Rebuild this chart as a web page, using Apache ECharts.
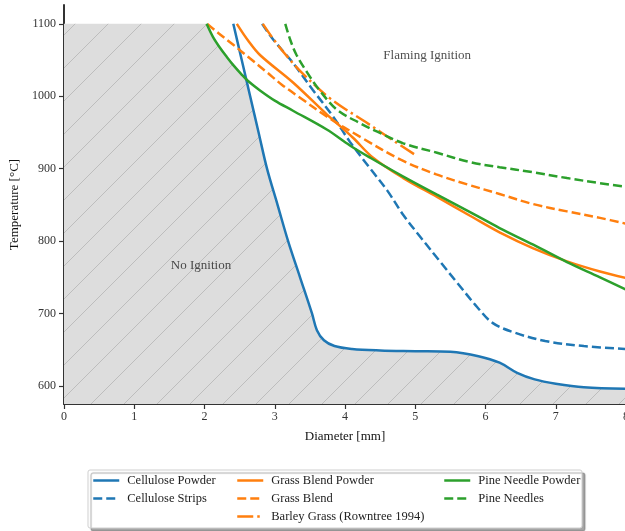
<!DOCTYPE HTML>
<html lang="en">
<head>
<meta charset="utf-8">
<title>Ignition temperature vs diameter</title>
<style>
html, body {
  margin: 0;
  background: #fff;
}
#chart {
  width: 625px;
  height: 531px;
}
</style>
</head>
<body>
<div id="chart"></div>
<script src="https://cdn.jsdelivr.net/npm/echarts@6.0.0/dist/echarts.min.js"></script>
<script>
// [diameter mm, temperature C]
var cellulosePowder = [[2.41,1100],[2.53,1050],[2.65,1000],[2.77,950],[2.89,900],[3.04,850],[3.19,800],[3.36,750],[3.53,700],[3.6,677],[3.7,663],[3.85,655],[4.1,651],[4.5,649],[5.0,648],[5.5,647],[5.9,641],[6.2,632],[6.45,618],[6.7,609],[7.0,603],[7.4,598],[8.0,596]];
var celluloseStrips = [[2.82,1100],[2.98,1078],[3.26,1046],[3.54,1009],[3.83,972],[4.07,937],[4.36,900],[4.6,870],[4.83,836],[5.07,806],[5.35,772],[5.6,742],[5.88,709],[6.1,687],[6.4,674],[6.85,662],[7.4,655],[8.0,651]];
var grassBlendPowder = [[2.46,1100],[2.62,1077],[2.79,1057],[3.26,1019],[3.74,975],[4.11,943],[4.4,915],[4.83,887],[5.31,861],[5.78,835],[6.2,812],[6.68,790],[7.16,772],[7.63,758],[8.0,749]];
var grassBlend = [[2.04,1100],[2.2,1087],[2.41,1071],[2.65,1052],[2.89,1033],[3.1,1016],[3.36,998],[3.74,972],[4.25,942],[4.8,912],[5.3,892],[5.75,878],[6.2,865],[6.68,851],[7.16,841],[7.63,832],[8.0,824]];
var barleyGrass = [[2.83,1100],[2.98,1079],[3.15,1058],[3.36,1035],[3.8,996],[4.3,964],[4.7,938],[5.0,919]];
var pineNeedlePowder = [[2.03,1100],[2.12,1082],[2.22,1067],[2.32,1054],[2.41,1043],[2.52,1031],[2.62,1021],[2.79,1008],[3.0,994],[3.26,980],[3.74,954],[4.07,932],[4.36,915],[4.83,889],[5.31,864],[5.78,840],[6.2,818],[6.68,795],[7.16,771],[7.63,750],[8.0,733]];
var pineNeedles = [[3.15,1100],[3.22,1078],[3.31,1057],[3.46,1033],[3.64,1008],[3.89,981],[4.21,963],[4.46,951],[4.83,935],[5.31,922],[5.78,909],[6.2,902],[6.68,895],[7.16,887],[7.63,880],[8.0,875]];

// top edge of the hatched region, then it follows the cellulose powder curve
var noIgnitionTop = [[0,1100],[2.03,1100],[2.12,1082],[2.22,1067],[2.32,1054],[2.41,1043],[2.52,1031],[2.61,1021]];

var yTicks = [600, 700, 800, 900, 1000, 1100];
var annotations = [[5.17, 1056, 'Flaming Ignition'], [1.95, 766, 'No Ignition']];

var C_BLUE = '#1f77b4', C_ORANGE = '#ff7f0e', C_GREEN = '#2ca02c';
var FONT = "'Liberation Serif', 'DejaVu Serif', serif";

function hatchPattern() {
  var s = 33;
  var c = document.createElement('canvas');
  c.width = s; c.height = s;
  var g = c.getContext('2d');
  g.fillStyle = '#dddddd';
  g.fillRect(0, 0, s, s);
  g.strokeStyle = '#bdbdbd';
  g.lineWidth = 1;
  g.beginPath();
  g.moveTo(0, s); g.lineTo(s, 0);
  g.moveTo(-2, 2); g.lineTo(2, -2);
  g.moveTo(s - 2, s + 2); g.lineTo(s + 2, s - 2);
  g.stroke();
  return c;
}

var noIgnitionEdge = noIgnitionTop.concat(cellulosePowder.filter(function (p) { return p[0] > 2.61; }));

function curve(name, data, color, dash) {
  return {
    name: name,
    type: 'line',
    data: data,
    symbol: 'none',
    smooth: 0.35,
    z: 3,
    lineStyle: { color: color, width: 2.5, type: dash || 'solid' },
    itemStyle: { color: color }
  };
}

var chart = echarts.init(document.getElementById('chart'));
chart.setOption({
  animation: false,
  textStyle: { fontFamily: FONT },
  grid: { left: 64, top: 5, width: 562, height: 399, outerBoundsMode: 'none' },
  xAxis: {
    type: 'value',
    min: 0, max: 8, interval: 1,
    name: 'Diameter [mm]',
    nameLocation: 'middle',
    nameGap: 26,
    nameTextStyle: { fontSize: 13, color: '#111', fontFamily: FONT },
    axisLine: { lineStyle: { color: '#333', width: 2 } },
    axisTick: { length: 5, lineStyle: { color: '#333', width: 1.2 } },
    axisLabel: { fontSize: 12, color: '#333', margin: 7, fontFamily: FONT },
    splitLine: { show: false }
  },
  yAxis: {
    type: 'value',
    min: 575, max: 1126,
    name: 'Temperature [°C]',
    nameLocation: 'middle',
    nameRotate: 90,
    nameGap: 36,
    nameTextStyle: { fontSize: 13, color: '#111', fontFamily: FONT },
    axisLine: { show: true, lineStyle: { color: '#333', width: 2 } },
    axisTick: { show: true, length: 5, customValues: yTicks, lineStyle: { color: '#333', width: 1.2 } },
    axisLabel: {
      fontSize: 12, color: '#333', margin: 8, customValues: yTicks, fontFamily: FONT,
      formatter: function (v) { return String(v); }
    },
    splitLine: { show: false }
  },
  legend: [
    { data: ['Cellulose Powder', 'Cellulose Strips'], left: 92 },
    { data: ['Grass Blend Powder', 'Grass Blend', 'Barley Grass (Rowntree 1994)'], left: 236 },
    { data: ['Pine Needle Powder', 'Pine Needles'], left: 443 }
  ].map(function (l) {
    return {
      data: l.data, left: l.left, top: 474,
      orient: 'vertical',
      itemWidth: 26, itemHeight: 10, itemGap: 5,
      padding: 0,
      itemStyle: { opacity: 0 },
      lineStyle: { width: 2.5 },
      textStyle: { fontSize: 12.5, color: '#222', fontFamily: FONT, padding: [0, 0, 0, 3] }
    };
  }),
  graphic: [{
    type: 'rect',
    shape: { x: 88, y: 470, width: 494, height: 58, r: 2 },
    style: { fill: '#fff', stroke: '#cfcfcf', lineWidth: 1, shadowColor: 'rgba(0,0,0,0.35)', shadowOffsetX: 3, shadowOffsetY: 3, shadowBlur: 1 },
    z: -1
  }],
  series: [
    {
      name: 'No Ignition region',
      type: 'line',
      data: noIgnitionEdge,
      symbol: 'none',
      smooth: 0.35,
      z: 1,
      silent: true,
      lineStyle: { width: 0 },
      areaStyle: { color: { image: hatchPattern(), repeat: 'repeat' }, opacity: 1, origin: 'start' }
    },
    curve('Cellulose Powder', cellulosePowder, C_BLUE),
    curve('Cellulose Strips', celluloseStrips, C_BLUE, [9, 4]),
    curve('Grass Blend Powder', grassBlendPowder, C_ORANGE),
    curve('Grass Blend', grassBlend, C_ORANGE, [9, 4]),
    curve('Barley Grass (Rowntree 1994)', barleyGrass, C_ORANGE, [16, 4, 2.5, 4]),
    curve('Pine Needle Powder', pineNeedlePowder, C_GREEN),
    curve('Pine Needles', pineNeedles, C_GREEN, [9, 4]),
    {
      name: 'labels',
      type: 'scatter',
      data: annotations,
      symbolSize: 0,
      silent: true,
      z: 5,
      label: {
        show: true,
        position: 'inside',
        formatter: function (p) { return p.value[2]; },
        fontSize: 13,
        color: '#222',
        fontFamily: FONT
      }
    }
  ]
});
</script>
</body>
</html>
